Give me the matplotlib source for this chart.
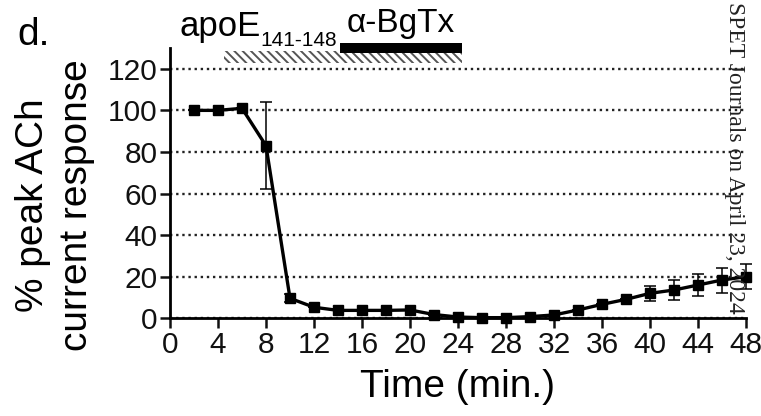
import matplotlib.pyplot as plt
from matplotlib.patches import Rectangle

plt.rcParams['font.family'] = ['Liberation Sans', 'DejaVu Sans']
plt.rcParams['hatch.linewidth'] = 1.4

# data
time_min = [2, 4, 6, 8, 10, 12, 14, 16, 18, 20, 22, 24,
            26, 28, 30, 32, 34, 36, 38, 40, 42, 44, 46, 48]
pct_response = [100, 100, 101, 83, 9.6, 5.3, 3.8, 3.8, 3.8, 4, 1.8, 0.6,
                0.3, 0.3, 0.8, 1.6, 4, 6.7, 9.1, 12, 13.6, 16, 18.4, 20]
pct_err = [0, 0, 0, 21, 2, 0, 0, 0, 0, 0, 0, 0,
           0, 0, 0, 0, 0, 0, 0, 3.7, 5, 5.3, 6, 6]
xticks = list(range(0, 49, 4))
yticks = [0, 20, 40, 60, 80, 100, 120]
apoe_span = (4.5, 24.3)
bgtx_span = (14.2, 24.3)

fig = plt.figure(figsize=(7.61, 4.16), dpi=100)
ax = fig.add_axes([0.2234, 0.2349, 0.7569, 0.6497])

ax.errorbar(time_min, pct_response, yerr=pct_err, color='black', lw=2.4,
            marker='s', markersize=7.5, capsize=4, elinewidth=1.1,
            capthick=1.1, clip_on=False, zorder=3)

ax.set_xlim(0, 48)
ax.set_ylim(0, 130)
ax.set_xticks(xticks)
ax.set_yticks(yticks)
ax.tick_params(labelsize=21.5, width=1.8, length=7, pad=2, colors='#111111')
ax.yaxis.grid(True, ls=(0, (1, 1.6)), color='#222222', lw=1.7, zorder=0)
ax.set_axisbelow(True)
for s in ['top', 'right']:
    ax.spines[s].set_visible(False)
for s in ['left', 'bottom']:
    ax.spines[s].set_linewidth(2)

# treatment bars above the plot
ax.add_patch(Rectangle((apoe_span[0], 122.6), apoe_span[1] - apoe_span[0], 6.2,
                       facecolor='white', edgecolor='#555555', lw=0,
                       hatch='\\\\\\\\', clip_on=False))
ax.add_patch(Rectangle((bgtx_span[0], 127.4), bgtx_span[1] - bgtx_span[0], 5.2,
                       facecolor='black', edgecolor='black', lw=0, clip_on=False))
ax.text(0.83, 136, 'apoE', fontsize=25, va='baseline', ha='left', clip_on=False)
ax.text(7.55, 131.0, '141-148', fontsize=15, va='baseline', ha='left', clip_on=False)
ax.text(14.75, 137.5, '\u03b1-BgTx', fontsize=24, va='baseline', ha='left', clip_on=False)

fig.text(457 / 761, 1 - 387 / 416, 'Time (min.)', fontsize=28, ha='center', va='center')
fig.text(55 / 761, 1 - 205 / 416, '% peak ACh\ncurrent response', fontsize=28,
         rotation=90, ha='center', va='center', multialignment='center',
         linespacing=1.3)
fig.text(17 / 761, 1 - 45 / 416, 'd.', fontsize=28, ha='left', va='baseline')

# watermark from the source page
fig.text(735 / 761, 1 - 2 / 416, 'SPET Journals on April 23, 2024',
         fontsize=17, family='Liberation Serif', rotation=-90,
         ha='center', va='top', color='#222222')

fig.savefig('out.png', dpi=100)
